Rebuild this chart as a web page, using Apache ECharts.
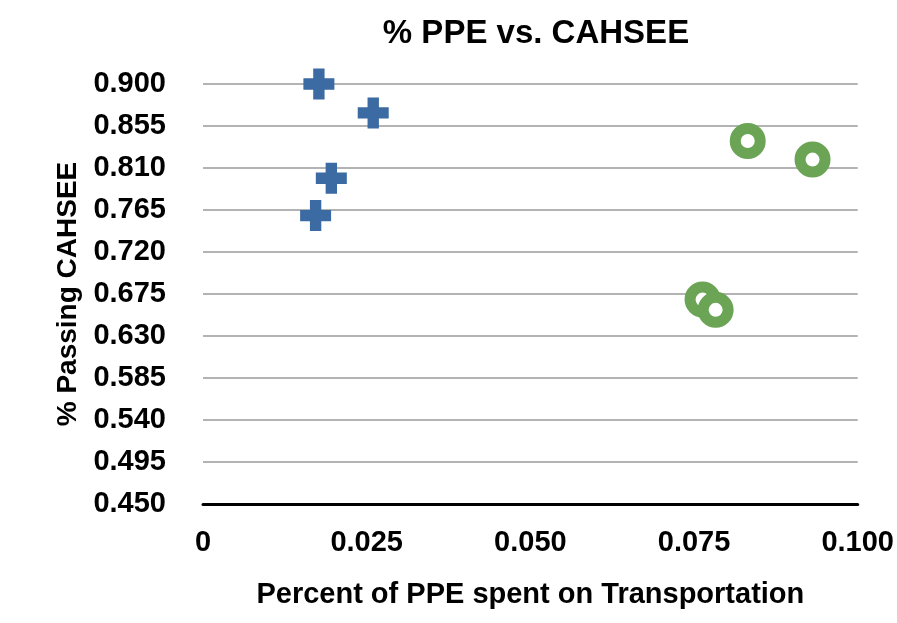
<!DOCTYPE html>
<html>
<head>
<meta charset="utf-8">
<script src="https://cdn.jsdelivr.net/npm/echarts@6/dist/echarts.min.js"></script>
<style>
  html, body { margin: 0; padding: 0; background: #fff; }
  #chart { width: 897px; height: 623px; }
</style>
</head>
<body>
<div id="chart"></div>
<script>
const crossX = [0.0177, 0.0260, 0.0196, 0.0172];
const crossY = [0.900, 0.869, 0.799, 0.759];
const ringX = [0.0832, 0.0931, 0.0763, 0.0783];
const ringY = [0.839, 0.819, 0.669, 0.658];

const FONT = "'Liberation Sans', Arial, Helvetica, sans-serif";
const plus = "path://M9.5,0 H20.5 V9.5 H30 V20.5 H20.5 V30 H9.5 V20.5 H0 V9.5 H9.5 Z";

const chart = echarts.init(document.getElementById("chart"));

const option = {
  backgroundColor: "#fff",
  animation: false,
  title: {
    text: "% PPE vs. CAHSEE",
    left: 531,
    textAlign: "center",
    top: 12,
    textStyle: { fontFamily: FONT, fontWeight: "bold", fontSize: 33, color: "#000" }
  },
  grid: { left: 203, right: 37, top: 84, bottom: 119 },
  xAxis: {
    type: "value",
    min: 0, max: 0.1, interval: 0.025,
    name: "Percent of PPE spent on Transportation",
    nameLocation: "middle",
    nameGap: 76,
    nameTextStyle: { fontFamily: FONT, fontWeight: "bold", fontSize: 29, color: "#000" },
    axisLine: { show: true, onZero: false, lineStyle: { color: "#000", width: 3 } },
    axisTick: { show: false },
    splitLine: { show: false },
    axisLabel: {
      margin: 24,
      fontFamily: FONT, fontWeight: "bold", fontSize: 29, color: "#000",
      formatter: v => v === 0 ? "0" : v.toFixed(3)
    }
  },
  yAxis: {
    type: "value",
    min: 0.45, max: 0.9, interval: 0.045,
    name: "% Passing CAHSEE",
    nameLocation: "middle",
    nameRotate: 90,
    nameGap: 116,
    nameTextStyle: { fontFamily: FONT, fontWeight: "bold", fontSize: 28, color: "#000" },
    axisLine: { show: false },
    axisTick: { show: false },
    splitLine: { show: true, lineStyle: { color: "#b3b3b3", width: 2 } },
    axisLabel: {
      margin: 37,
      fontFamily: FONT, fontWeight: "bold", fontSize: 29, color: "#000",
      formatter: v => v.toFixed(3)
    }
  },
  series: [
    {
      name: "Cross",
      type: "scatter",
      symbol: plus,
      symbolSize: 31,
      itemStyle: { color: "#3b6ba2", opacity: 1 },
      data: crossX.map((x, i) => [x, crossY[i]])
    },
    {
      name: "Ring",
      type: "scatter",
      symbol: "circle",
      symbolSize: 25,
      itemStyle: { color: "#fff", borderColor: "#6aa454", borderWidth: 11, opacity: 1 },
      data: ringX.map((x, i) => [x, ringY[i]])
    }
  ]
};

chart.setOption(option);
</script>
</body>
</html>
